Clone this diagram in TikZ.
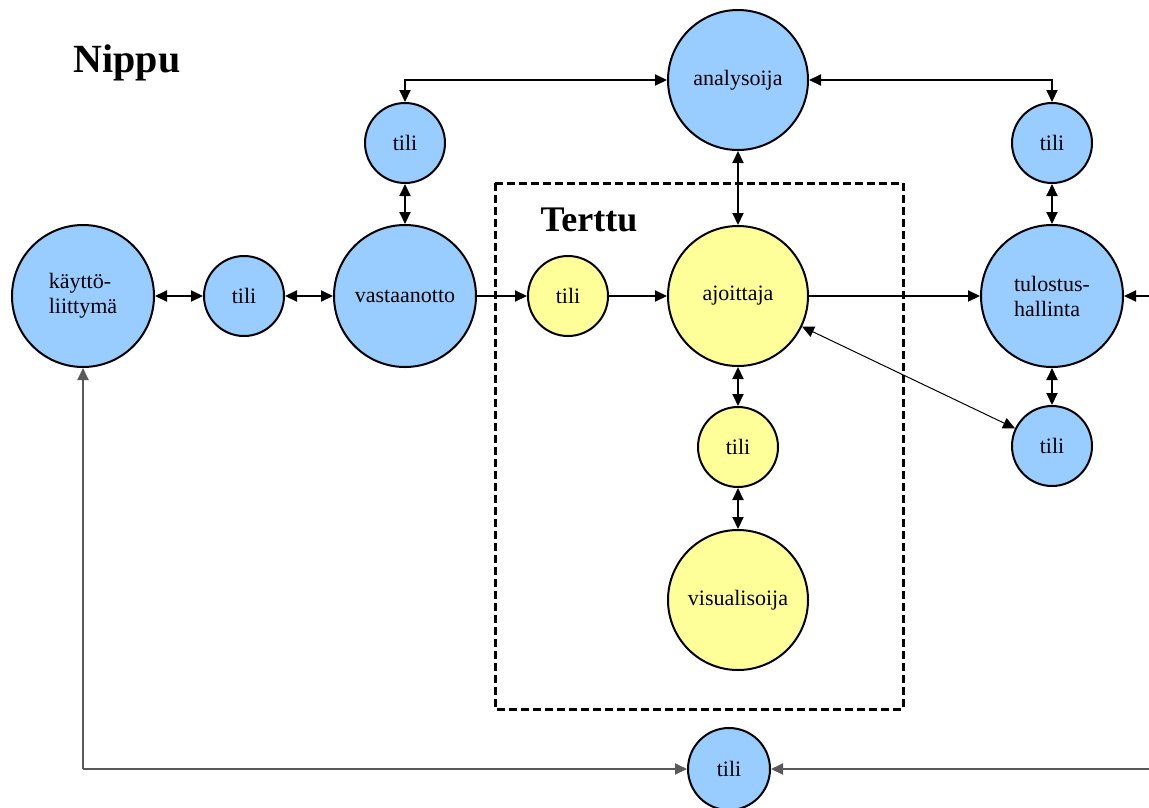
\documentclass[tikz,border=0pt]{standalone}
\usepackage{fontspec}
\setmainfont{Liberation Serif}
\usetikzlibrary{arrows.meta}
\definecolor{bl}{HTML}{99CCFF}
\definecolor{yl}{HTML}{FFFF99}
\begin{document}
\begin{tikzpicture}[x=1pt,y=-1pt,
  circ/.style={circle,draw=black,line width=2pt,inner sep=0pt,align=center,font=\fontsize{22}{25}\selectfont},
  big/.style={circ,minimum size=142pt},
  small/.style={circ,minimum size=80pt},
  blue/.style={fill=bl},
  yel/.style={fill=yl},
  tip/.tip={Triangle[length=12pt,width=11pt]},
  con/.style={line width=2pt,-tip},
  bi/.style={line width=2pt,tip-tip},
  gcon/.style={line width=2pt,draw=black!65,-tip}]
\useasboundingbox (0,0) rectangle (1149,807);
% nodes
\node[big,blue,align=left] (kl) at (83,296) {käyttö-\\liittymä};
\node[small,blue] (t1) at (244,296) {tili};
\node[big,blue] (va) at (405,296) {vastaanotto};
\node[small,blue] (t2) at (405,143) {tili};
\node[big,blue,minimum size=140pt] (an) at (738,80) {analysoija};
\node[small,blue] (t3) at (1052,143) {tili};
\node[big,blue,align=left] (th) at (1052,296) {tulostus-\\hallinta};
\node[small,blue] (t4) at (1052,446) {tili};
\node[small,yel] (y1) at (568,296) {tili};
\node[big,yel,minimum size=140pt] (aj) at (738,296) {ajoittaja};
\node[small,yel] (y2) at (738,447) {tili};
\node[big,yel,minimum size=140pt] (vi) at (738,600) {visualisoija};
\node[small,blue,minimum size=82pt] (tb) at (729,769) {tili};
% box and labels
\draw[line width=3pt,dash pattern=on 8pt off 4pt] (495,183) rectangle (903,709);
\node[font=\fontsize{40}{44}\selectfont\bfseries] (nippu) at (127,63) {Nippu};
\node[font=\fontsize{36}{40}\selectfont\bfseries] (terttu) at (589,220) {Terttu};
% coordinates
\coordinate (re) at (1149,296);
\coordinate (rb) at (1149,769);
\coordinate (c1) at (405,80);
\coordinate (c2) at (1052,80);
\coordinate (c3) at (83,769);
% connectors
\draw[bi] (kl) -- (t1);
\draw[bi] (t1) -- (va);
\draw[con] (va) -- (y1);
\draw[con] (y1) -- (aj);
\draw[con] (aj) -- (th);
\draw[con] (re) -- (th);
\draw[bi] (t2) -- (va);
\draw[bi] (t2.north) -- (c1) -- (an.west);
\draw[bi] (an.east) -- (c2) -- (t3.north);
\draw[bi] (an) -- (aj);
\draw[bi] (t3) -- (th);
\draw[bi] (th) -- (t4);
\draw[line width=1pt,tip-tip] (aj) -- (t4);
\draw[bi] (aj) -- (y2);
\draw[bi] (y2) -- (vi);
\draw[gcon] (c3) -- (tb.west);
\draw[gcon] (c3) -- (kl.south);
\draw[gcon] (rb) -- (tb.east);
\end{tikzpicture}
\end{document}
